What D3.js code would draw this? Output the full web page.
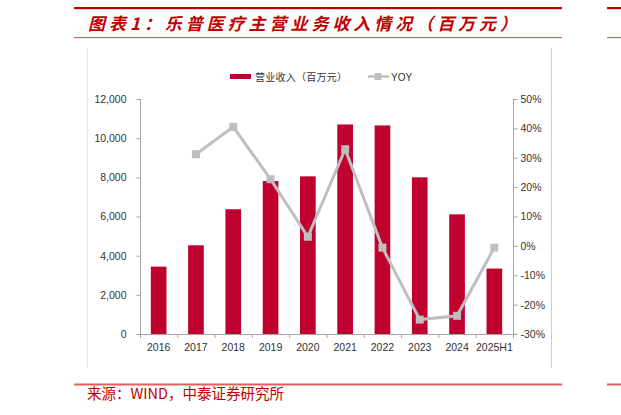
<!DOCTYPE html>
<html><head><meta charset="utf-8">
<script src="https://cdn.jsdelivr.net/npm/d3@7"></script>
<style>body{margin:0;background:#fff}svg{display:block}</style>
</head><body>
<svg id="c" width="621" height="415"></svg>
<script>
const categories = ["2016","2017","2018","2019","2020","2021","2022","2023","2024","2025H1"];
const revenue = [3440, 4530, 6370, 7810, 8050, 10700, 10650, 8000, 6110, 3340];
const yoy = [null, 31.2, 40.5, 22.7, 3.1, 32.9, -0.6, -25.1, -23.8, -0.6];
const leftTicks = [0, 2000, 4000, 6000, 8000, 10000, 12000];
const rightTicks = [-30, -20, -10, 0, 10, 20, 30, 40, 50];
const titleText = "图表1：乐普医疗主营业务收入情况（百万元）";
const sourceText = "来源：WIND，中泰证券研究所";
const legendLabels = ["营业收入（百万元）", "YOY"];

const svg = d3.select("#c");
const red = "#c00000", barColor = "#c0002f", grey = "#bfbfbf", axisColor = "#a6a6a6";
const cjk = "'Noto Sans CJK SC', sans-serif";
const lat = "'Liberation Sans', Arial, sans-serif";

// header lines
svg.append("rect").attr("x",74).attr("y",7).attr("width",488).attr("height",2.2).attr("fill",red);
svg.append("rect").attr("x",607).attr("y",7).attr("width",14).attr("height",2.2).attr("fill",red);
svg.append("rect").attr("x",74).attr("y",37).attr("width",488).attr("height",1.2).attr("fill","#e06060");
svg.append("rect").attr("x",607).attr("y",37).attr("width",14).attr("height",1.2).attr("fill","#e06060");
svg.append("text").attr("x",88).attr("y",30).attr("fill",red)
  .attr("font-family",cjk).attr("font-size",17).attr("font-weight","bold").attr("font-style","italic")
  .attr("textLength",429).attr("lengthAdjust","spacing")
  .text(titleText);

// footer
svg.append("rect").attr("x",74).attr("y",383.5).attr("width",488).attr("height",2).attr("fill","#e06060");
svg.append("rect").attr("x",607).attr("y",383.5).attr("width",14).attr("height",2).attr("fill","#e06060");
svg.append("text").attr("x",87).attr("y",399).attr("fill",red)
  .attr("font-family",cjk).attr("font-size",14.5).text(sourceText);

// frame lines
svg.append("line").attr("x1",87.5).attr("x2",87.5).attr("y1",48).attr("y2",368).attr("stroke","#e8e8e8");
svg.append("line").attr("x1",551.5).attr("x2",551.5).attr("y1",48).attr("y2",368).attr("stroke","#cccccc");

// scales
const x = d3.scaleBand().domain(categories).range([140, 513]).paddingInner(0.58).paddingOuter(0.29);
const xb = d3.scaleBand().domain(categories).range([140, 513]);
const yL = d3.scaleLinear().domain([0, 12000]).range([334, 99]);
const yR = d3.scaleLinear().domain([-30, 50]).range([334, 99]);

// bars
svg.append("g").selectAll("rect").data(revenue).join("rect")
  .attr("x",(d,i)=>x(categories[i])).attr("width",x.bandwidth())
  .attr("y",d=>yL(d)).attr("height",d=>yL(0)-yL(d)).attr("fill",barColor);

// axes
const fmt = d3.format(",");
const gL = svg.append("g").attr("transform","translate(140.5,0)")
  .call(d3.axisLeft(yL).tickValues(leftTicks).tickSize(4).tickPadding(10).tickFormat(fmt));
const gR = svg.append("g").attr("transform","translate(513.5,0)")
  .call(d3.axisRight(yR).tickValues(rightTicks).tickSize(4).tickPadding(3).tickFormat(d=>d+"%"));
const gB = svg.append("g").attr("transform","translate(0,334.5)")
  .call(d3.axisBottom(xb).tickSize(0).tickPadding(9));
[gL,gR,gB].forEach(g=>{
  g.select(".domain").attr("stroke",axisColor);
  g.selectAll(".tick line").attr("stroke",axisColor);
  g.selectAll("text").attr("fill","#333").attr("font-family",lat).attr("font-size",10.5);
});
gL.select(".domain").attr("d","M0,99V334");
gR.select(".domain").attr("d","M0,99V334");
gB.select(".domain").attr("d","M140,0H513");
// bottom boundary ticks
svg.append("g").selectAll("line").data(d3.range(categories.length+1)).join("line")
  .attr("x1",i=>140.5+i*xb.step()).attr("x2",i=>140.5+i*xb.step())
  .attr("y1",334).attr("y2",338).attr("stroke",axisColor);

// yoy line
const pts = yoy.map((v,i)=>({v,c:categories[i]})).filter(d=>d.v!==null);
const line = d3.line().x(d=>xb(d.c)+xb.bandwidth()/2).y(d=>yR(d.v));
svg.append("path").datum(pts).attr("d",line).attr("fill","none").attr("stroke",grey).attr("stroke-width",3);
svg.append("g").selectAll("rect").data(pts).join("rect")
  .attr("x",d=>xb(d.c)+xb.bandwidth()/2-4).attr("y",d=>yR(d.v)-4)
  .attr("width",8).attr("height",8).attr("fill",grey);

// legend
const lg = svg.append("g");
lg.append("rect").attr("x",230).attr("y",74).attr("width",21).attr("height",5).attr("fill",barColor);
lg.append("text").attr("x",255).attr("y",80.5).attr("font-family",cjk).attr("font-size",10).attr("fill","#333")
  .attr("textLength",92).attr("lengthAdjust","spacing").text(legendLabels[0]);
lg.append("line").attr("x1",368).attr("x2",389).attr("y1",76.5).attr("y2",76.5).attr("stroke",grey).attr("stroke-width",2.5);
lg.append("rect").attr("x",374.5).attr("y",73).attr("width",7).attr("height",7).attr("fill",grey);
lg.append("text").attr("x",391).attr("y",80.5).attr("font-family",lat).attr("font-size",10).attr("fill","#333").text(legendLabels[1]);
</script>
</body></html>
